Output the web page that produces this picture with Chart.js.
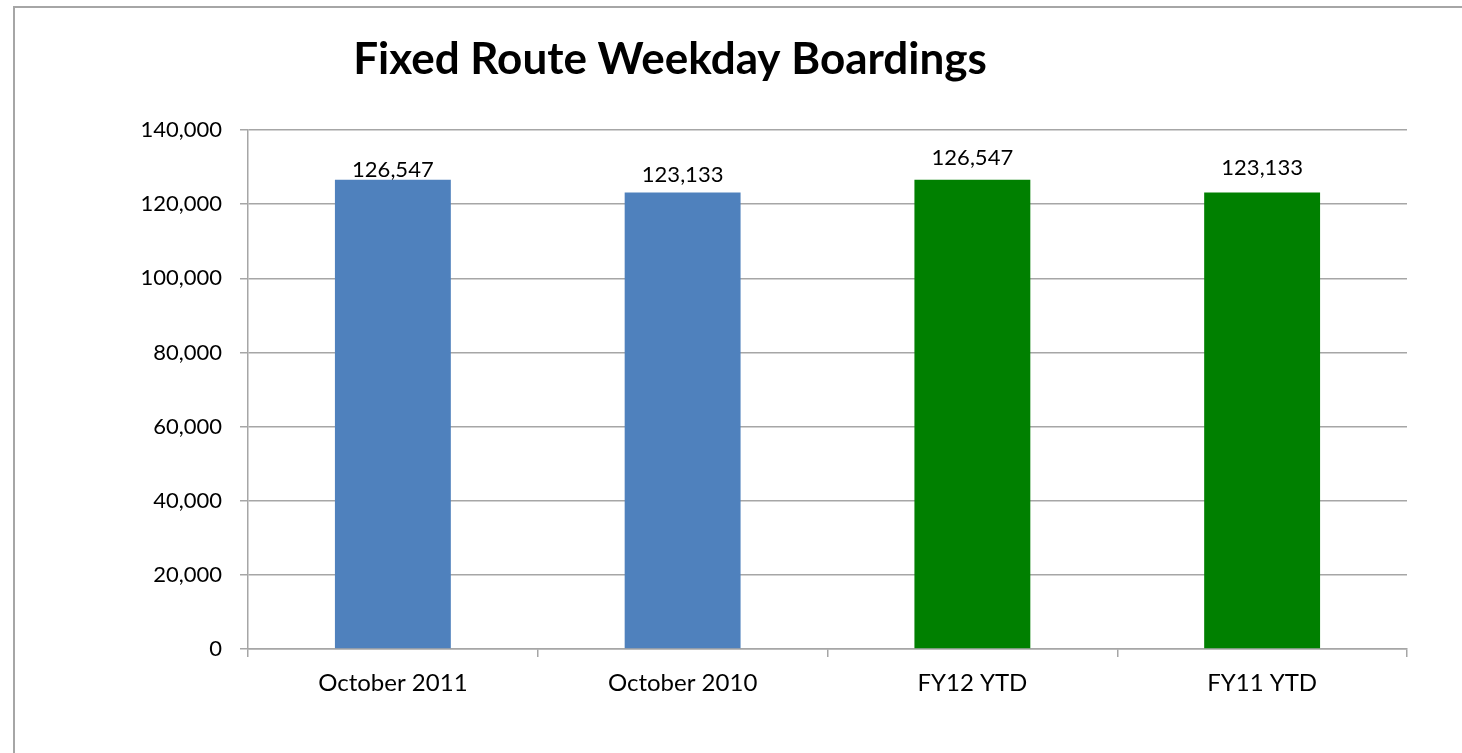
<!DOCTYPE html>
<html>
<head>
<meta charset="utf-8">
<title>Fixed Route Weekday Boardings</title>
<script src="https://cdn.jsdelivr.net/npm/chart.js@4"></script>
<style>
  html, body { margin: 0; padding: 0; background: #fff; overflow: hidden; }
  #cornice {
    position: absolute; left: 13px; top: 6px; width: 1600px; height: 900px;
    border-left: 2px solid #a6a6a6; border-top: 2px solid #a6a6a6;
  }
  #contenitore { position: absolute; left: 0; top: 0; width: 1462px; height: 753px; }
</style>
</head>
<body>
<div id="cornice"></div>
<div id="contenitore"><canvas id="grafico"></canvas></div>
<script>
const titolo = "Fixed Route Weekday Boardings";
const categorie = ["October 2011", "October 2010", "FY12 YTD", "FY11 YTD"];
const valori = [126547, 123133, 126547, 123133];
const yMin = 0;
const yMax = 140000;
const yPasso = 20000;

const colori = ["#4F81BD", "#4F81BD", "#008000", "#008000"];
const grigio = "#a6a6a6";
const font = "Lato";

// titolo disegnato a mano (non centrato sul canvas nell'originale)
const pluginTitolo = {
  id: "titolo",
  afterDraw(chart) {
    const ctx = chart.ctx;
    ctx.save();
    ctx.font = "bold 44px " + font;
    ctx.fillStyle = "#000";
    ctx.textAlign = "center";
    ctx.textBaseline = "alphabetic";
    ctx.fillText(titolo, 670, 74);
    ctx.restore();
  }
};

// etichette sopra le barre
const pluginEtichette = {
  id: "etichette",
  afterDatasetsDraw(chart, args, opts) {
    const ctx = chart.ctx;
    const meta = chart.getDatasetMeta(0);
    ctx.save();
    ctx.font = "22px " + font;
    ctx.fillStyle = "#000";
    ctx.textAlign = "center";
    ctx.textBaseline = "alphabetic";
    meta.data.forEach((bar, i) => {
      const testo = valori[i].toLocaleString("en-US");
      ctx.fillText(testo, bar.x, bar.y - opts.solleva[i]);
    });
    ctx.restore();
  }
};

const ctx = document.getElementById("grafico");

new Chart(ctx, {
  type: "bar",
  data: {
    labels: categorie,
    datasets: [{
      data: valori,
      backgroundColor: colori,
      borderWidth: 0,
      barPercentage: 0.4,
      categoryPercentage: 1.0
    }]
  },
  options: {
    responsive: true,
    maintainAspectRatio: false,
    animation: false,
    layout: { padding: { top: 130, right: 55, bottom: 0, left: 0 } },
    plugins: {
      legend: { display: false },
      tooltip: { enabled: false },
      etichette: { solleva: [3, 11, 15, 18] }
    },
    scales: {
      x: {
        offset: true,
        grid: {
          offset: true,
          drawOnChartArea: false,
          drawTicks: true,
          tickLength: 8,
          color: grigio,
          lineWidth: 1.5
        },
        border: { color: grigio, width: 1.5 },
        ticks: {
          color: "#000",
          font: { family: font, size: 24 },
          padding: 12,
          maxRotation: 0
        },
        afterFit(scale) { scale.height = 104; }
      },
      y: {
        min: yMin,
        max: yMax,
        grid: {
          color: grigio,
          lineWidth: 1.5,
          tickLength: 8
        },
        border: { color: grigio, width: 1.5 },
        ticks: {
          stepSize: yPasso,
          color: "#000",
          font: { family: font, size: 22 },
          padding: 18,
          callback: v => v.toLocaleString("en-US")
        },
        afterFit(scale) { scale.width = 248; }
      }
    }
  },
  plugins: [pluginTitolo, pluginEtichette]
});
</script>
</body>
</html>
